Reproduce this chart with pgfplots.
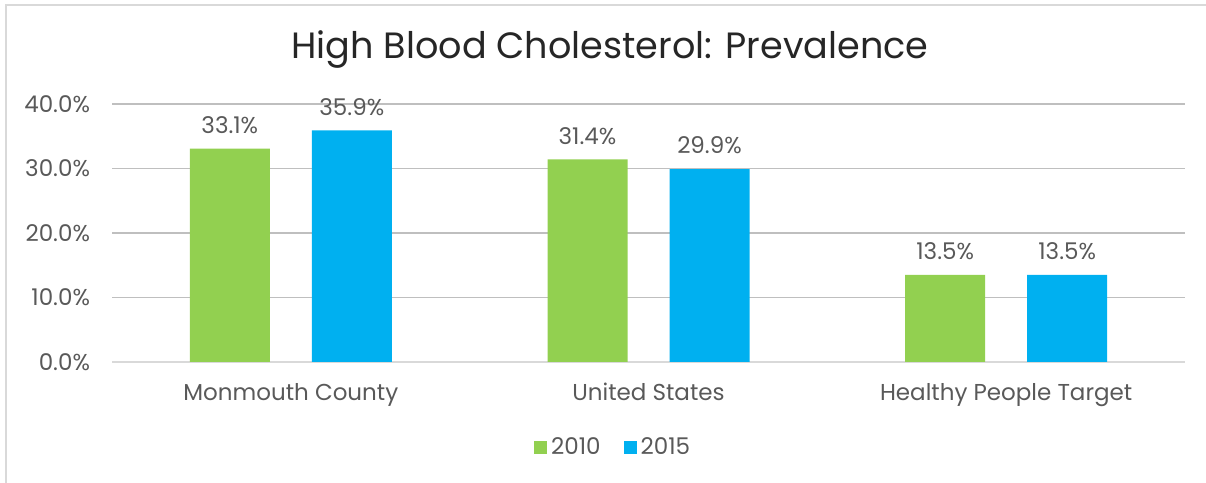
\documentclass[border=0pt]{standalone}
\usepackage{fontspec}
\setmainfont{Poppins}
\usepackage{pgfplots}
\pgfplotsset{compat=1.18}
\definecolor{grn}{HTML}{92D050}
\definecolor{blu}{HTML}{00B0F0}
\definecolor{txt}{HTML}{595959}
\definecolor{grid}{HTML}{D9D9D9}

\pgfplotstableread{
x  y2010 y2015
0  33.1  35.9
1  31.4  29.9
2  13.5  13.5
}\cholesterol

\begin{document}
\begin{tikzpicture}
\useasboundingbox (0,0) rectangle (603bp,241.5bp);
% chart frame
\draw[grid, line width=1bp] (3bp,0) -- (3bp,239bp) -- (603bp,239bp);
\node[text=black!85, font=\fontsize{18.3bp}{22bp}\selectfont] at (305bp,216.5bp) {High Blood Cholesterol: Prevalence};
\begin{axis}[
    at={(56bp,60.5bp)}, anchor=south west,
    scale only axis,
    width=536.5bp, height=129bp,
    ybar=21bp, bar width=40bp,
    xmin=-0.5, xmax=2.5,
    ymin=0, ymax=40,
    xtick={0,1,2},
    xticklabels={Monmouth County, United States, Healthy People Target},
    ytick={0,10,20,30,40},
    yticklabel={\pgfmathprintnumber[fixed,fixed zerofill,precision=1]{\tick}\%},
    /pgf/number format/assume math mode=true,
    xmajorgrids=false,
    ymajorgrids=true,
    major grid style={grid, line width=0.75bp},
    axis x line*=bottom,
    axis y line*=left,
    x axis line style={grid, line width=0.75bp},
    y axis line style={draw=none},
    major tick length=0pt,
    tick style={draw=none},
    ticklabel style={text=txt, font=\fontsize{11.5bp}{14bp}\selectfont},
    yticklabel style={xshift=-7.5bp},
    xticklabel style={yshift=-7bp},
    nodes near coords={\pgfmathprintnumber[fixed,fixed zerofill,precision=1]{\pgfplotspointmeta}\%},
    every node near coord/.append style={text=txt, font=\fontsize{11.5bp}{14bp}\selectfont, yshift=4bp},
    legend style={at={(0.468,-0.33)}, anchor=center, draw=none, legend columns=2,
        font=\fontsize{11.5bp}{14bp}\selectfont, text=txt,
        /tikz/every even column/.append style={column sep=9.5bp}},
    legend image code/.code={\fill[#1] (0bp,-3.25bp) rectangle (6.5bp,3.25bp);},
]
\addplot[fill=grn, draw=none] table[x=x, y=y2010] {\cholesterol};
\addplot[fill=blu, draw=none] table[x=x, y=y2015] {\cholesterol};
\legend{2010,2015}
\end{axis}
\end{tikzpicture}
\end{document}
